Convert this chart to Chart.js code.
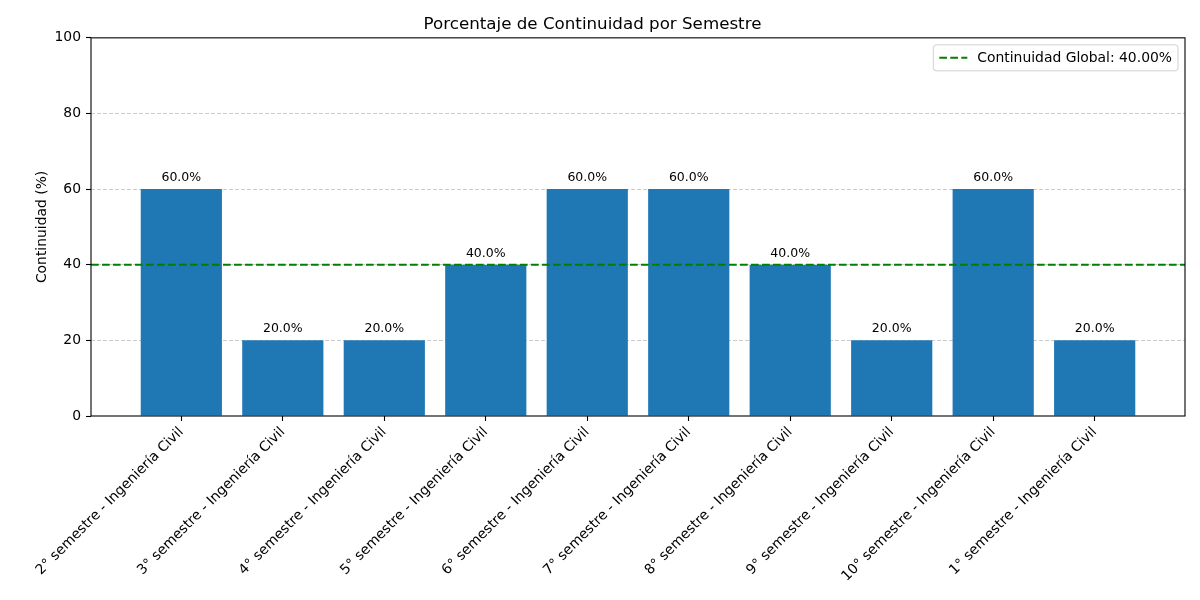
<!DOCTYPE html>
<html>
<head>
<meta charset="utf-8">
<script src="https://cdn.jsdelivr.net/npm/chart.js@4"></script>
<style>
html,body{margin:0;padding:0;background:#fff;}
#wrap{width:1200px;height:600px;}
</style>
</head>
<body>
<div id="wrap"><canvas id="c" width="1200" height="600"></canvas></div>
<script>
const categories = [
  "2° semestre - Ingeniería Civil",
  "3° semestre - Ingeniería Civil",
  "4° semestre - Ingeniería Civil",
  "5° semestre - Ingeniería Civil",
  "6° semestre - Ingeniería Civil",
  "7° semestre - Ingeniería Civil",
  "8° semestre - Ingeniería Civil",
  "9° semestre - Ingeniería Civil",
  "10° semestre - Ingeniería Civil",
  "1° semestre - Ingeniería Civil"
];
const continuidad = [60, 20, 20, 40, 60, 60, 40, 20, 60, 20];
const globalValue = [40];
const yTicks = [0, 20, 40, 60, 80, 100];

const FONT = "'DejaVu Sans', sans-serif";

const barData = categories.map((c, i) => ({x: i, y: continuidad[i]}));
const legendLabel = "Continuidad Global: " + globalValue[0].toFixed(2) + "%";

const plugin = {
  id: 'extras',
  afterDatasetsDraw(chart) {
    const ctx = chart.ctx;
    const ys = chart.scales.y;
    const a = chart.chartArea;
    const meta = chart.getDatasetMeta(0);
    ctx.save();
    ctx.fillStyle = '#000';
    ctx.font = "12.5px " + FONT;
    ctx.textAlign = 'center';
    ctx.textBaseline = 'bottom';
    meta.data.forEach((bar, i) => {
      ctx.fillText(continuidad[i].toFixed(1) + '%', bar.x, bar.y - 5);
    });
    ctx.restore();
    const gy = ys.getPixelForValue(globalValue[0]);
    ctx.save();
    ctx.strokeStyle = '#008000';
    ctx.lineWidth = 2;
    ctx.setLineDash([7.7, 3.3]);
    ctx.beginPath();
    ctx.moveTo(a.left, gy);
    ctx.lineTo(a.right, gy);
    ctx.stroke();
    ctx.restore();
  },
  afterDraw(chart) {
    const ctx = chart.ctx;
    const a = chart.chartArea;
    ctx.save();
    ctx.strokeStyle = '#000';
    ctx.lineWidth = 1.1;
    ctx.setLineDash([]);
    ctx.strokeRect(a.left, a.top, a.right - a.left, a.bottom - a.top);
    ctx.restore();
    ctx.save();
    ctx.font = "13.9px " + FONT;
    const tw = ctx.measureText(legendLabel).width;
    const bw = tw + 50, bh = 26;
    const bx = a.right - 7 - bw, by = a.top + 7;
    ctx.fillStyle = 'rgba(255,255,255,0.8)';
    ctx.strokeStyle = '#d0d0d0';
    ctx.lineWidth = 1;
    ctx.beginPath();
    ctx.roundRect(bx, by, bw, bh, 3);
    ctx.fill();
    ctx.stroke();
    ctx.strokeStyle = '#008000';
    ctx.lineWidth = 2;
    ctx.setLineDash([7.7, 3.3]);
    ctx.beginPath();
    ctx.moveTo(bx + 6, by + bh / 2);
    ctx.lineTo(bx + 34, by + bh / 2);
    ctx.stroke();
    ctx.setLineDash([]);
    ctx.fillStyle = '#000';
    ctx.textBaseline = 'middle';
    ctx.textAlign = 'left';
    ctx.fillText(legendLabel, bx + 44, by + bh / 2 + 0.5);
    ctx.restore();
  }
};

new Chart(document.getElementById('c'), {
  type: 'bar',
  data: {
    datasets: [{
      data: barData,
      backgroundColor: '#1f77b4',
      borderWidth: 0,
      barPercentage: 0.8,
      categoryPercentage: 1.0
    }]
  },
  options: {
    responsive: false,
    animation: false,
    devicePixelRatio: 1,
    layout: {padding: {top: 0, right: 15, bottom: 0, left: 0}},
    plugins: {
      legend: {display: false},
      tooltip: {enabled: false},
      title: {
        display: true,
        text: 'Porcentaje de Continuidad por Semestre',
        color: '#000',
        font: {family: FONT, size: 16.7, weight: 'normal'},
        padding: {top: 15, bottom: 2.8}
      }
    },
    scales: {
      x: {
        type: 'linear',
        min: -0.89,
        max: categories.length - 1 + 0.89,
        offset: false,
        afterBuildTicks(scale) {
          scale.ticks = categories.map((c, i) => ({value: i}));
        },
        afterFit(scale) { scale.height = 184; },
        grid: {offset: false, drawOnChartArea: false, drawTicks: true, tickLength: 5, tickColor: '#000', tickWidth: 1.1, tickBorderDash: []},
        border: {display: false},
        ticks: {
          autoSkip: false,
          maxRotation: 45,
          minRotation: 45,
          padding: 3,
          color: '#000',
          font: {family: FONT, size: 13.9},
          callback: (v) => categories[v]
        }
      },
      y: {
        min: 0,
        max: 100,
        afterBuildTicks(scale) {
          scale.ticks = yTicks.map(v => ({value: v}));
        },
        afterFit(scale) { scale.width = 91; },
        grid: {
          color: (c) => (c.tick && (c.tick.value === 0 || c.tick.value === 100)) ? 'rgba(0,0,0,0)' : 'rgba(176,176,176,0.65)',
          lineWidth: 1,
          drawTicks: true,
          tickLength: 5,
          tickColor: '#000',
          tickWidth: 1.1,
          tickBorderDash: []
        },
        border: {display: false, dash: [4, 2]},
        ticks: {
          padding: 5,
          color: '#000',
          font: {family: FONT, size: 13.9}
        },
        title: {
          display: true,
          text: 'Continuidad (%)',
          color: '#000',
          font: {family: FONT, size: 13.9},
          padding: {top: 34, bottom: 0}
        }
      }
    }
  },
  plugins: [plugin]
});
</script>
</body>
</html>
